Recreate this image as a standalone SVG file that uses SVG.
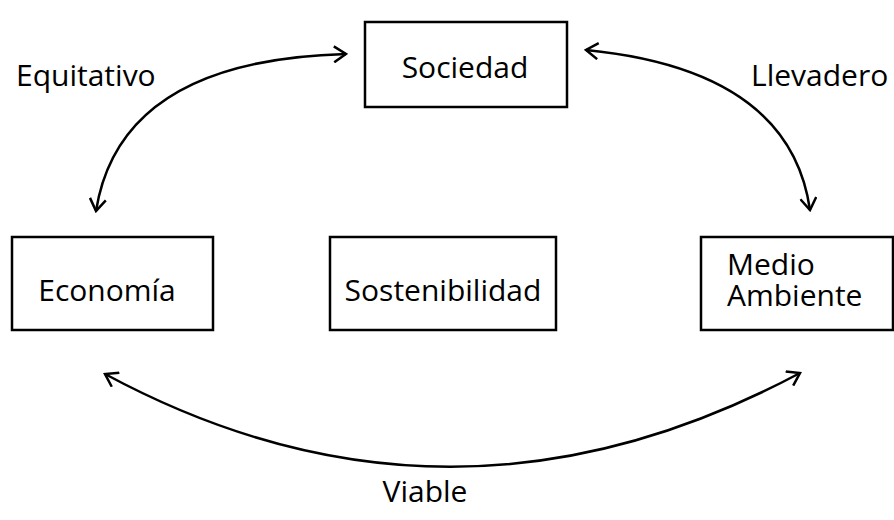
<svg xmlns="http://www.w3.org/2000/svg" width="894" height="520" viewBox="0 0 894 520">
<style>
.box{fill:#fff;stroke:#000;stroke-width:2.5}
.t{font-family:"Open Sans","Noto Sans","Liberation Sans",sans-serif;font-size:30px;fill:#000}
.c{fill:none;stroke:#000;stroke-width:2.5}
</style>
<defs>
<marker id="ah" viewBox="-14 -9 16 18" markerWidth="16" markerHeight="18" refX="0" refY="0" orient="auto-start-reverse" markerUnits="userSpaceOnUse">
<path d="M-12,-8 L0,0 L-12,8" fill="none" stroke="#000" stroke-width="2.5"/>
</marker>
</defs>
<rect width="894" height="520" fill="#fff"/>
<g id="connectors">
<path class="c" d="M96,211 Q120,60 346,54" marker-start="url(#ah)" marker-end="url(#ah)"/>
<path class="c" d="M586,50 Q790,70 810,210" marker-start="url(#ah)" marker-end="url(#ah)"/>
<path class="c" d="M105,374 Q450,560 800,373" marker-start="url(#ah)" marker-end="url(#ah)"/>
</g>
<g id="sociedad">
<rect class="box" x="365" y="22" width="202" height="85"/>
<text class="t" x="465" y="78" text-anchor="middle">Sociedad</text>
</g>
<g id="economia">
<rect class="box" x="12" y="237" width="201" height="93"/>
<text class="t" x="107" y="301" text-anchor="middle">Economía</text>
</g>
<g id="sostenibilidad">
<rect class="box" x="330" y="237" width="226" height="93"/>
<text class="t" x="443" y="301" text-anchor="middle">Sostenibilidad</text>
</g>
<g id="medio-ambiente">
<rect class="box" x="701" y="237" width="192" height="93"/>
<text class="t"><tspan x="727" y="275">Medio</tspan><tspan x="727" y="306">Ambiente</tspan></text>
</g>
<g id="labels">
<text class="t" x="16" y="86">Equitativo</text>
<text class="t" x="751" y="86">Llevadero</text>
<text class="t" x="425" y="502" text-anchor="middle">Viable</text>
</g>
</svg>
